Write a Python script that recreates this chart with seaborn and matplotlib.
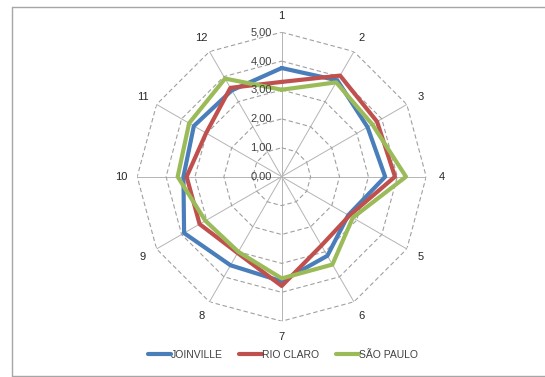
import numpy as np
import pandas as pd
import matplotlib
matplotlib.use("Agg")
import matplotlib.pyplot as plt
import matplotlib.transforms as mtransforms
from matplotlib.lines import Line2D
import seaborn as sns

# Criteria 1..12 and the mean score of each city
categories = ["1", "2", "3", "4", "5", "6", "7", "8", "9", "10", "11", "12"]
joinville = [3.76, 3.85, 3.43, 3.58, 2.66, 3.16, 3.62, 3.54, 3.90, 3.40, 3.51, 3.45]
rio_claro = [3.28, 4.04, 3.81, 3.92, 2.70, 2.75, 3.78, 3.05, 3.28, 3.29, 3.02, 3.55]
sao_paulo = [3.01, 3.77, 3.62, 4.30, 2.84, 3.51, 3.52, 3.00, 3.05, 3.60, 3.70, 3.92]
series_names = ["JOINVILLE", "RIO CLARO", "SÃO PAULO"]
ring_levels = [0, 1, 2, 3, 4, 5]
ring_labels = ["0,00", "1,00", "2,00", "3,00", "4,00", "5,00"]
palette = ["#4a7ebb", "#c0504d", "#9bbb59"]

sns.set_style("white")
plt.rcParams["font.family"] = ["Liberation Sans", "DejaVu Sans"]

n = len(categories)
theta = np.linspace(0, 2 * np.pi, n, endpoint=False)
theta_closed = np.append(theta, 2 * np.pi)

rows = []
for name, vals in zip(series_names, [joinville, rio_claro, sao_paulo]):
    closed = list(vals) + [vals[0]]
    for i, (t, v) in enumerate(zip(theta_closed, closed)):
        rows.append({"city": name, "theta": t, "value": v, "order": i})
df = pd.DataFrame(rows)

W, H = 545, 377
fig = plt.figure(figsize=(W / 100, H / 100), dpi=100)
fig.patch.set_facecolor("white")

# chart frame: left, top and bottom edges (runs off the right side)
frame_kw = dict(transform=fig.transFigure, color="#a6a6a6", linewidth=1.0)
x0, y_top, y_bot = 11.5 / W, 1 - 6.5 / H, 1 - 375.5 / H
fig.add_artist(Line2D([x0, x0], [y_bot, y_top], **frame_kw))
fig.add_artist(Line2D([x0, 1.01], [y_top, y_top], **frame_kw))
fig.add_artist(Line2D([x0, 1.01], [y_bot, y_bot], **frame_kw))

cx, cy, R = 281.7, 176.7, 144.5
ax = fig.add_axes([(cx - R) / W, (H - cy - R) / H, 2 * R / W, 2 * R / H],
                  projection="polar")
ax.set_theta_offset(np.pi / 2)
ax.set_theta_direction(-1)
ax.set_ylim(0, 5)
ax.grid(False)
ax.spines["polar"].set_visible(False)
ax.set_xticks([])
ax.set_yticks([])
ax.patch.set_alpha(0)

# spokes
for t in theta:
    ax.plot([t, t], [0, 5], color="#b4b4b4", linewidth=0.7, zorder=1)
# polygonal rings
for lvl in ring_levels[1:]:
    ax.plot(theta_closed, [lvl] * (n + 1), color="#a0a0a0", linewidth=0.8,
            linestyle=(0, (4, 2.5)), zorder=1)

sns.lineplot(data=df, x="theta", y="value", hue="city", units="city",
             estimator=None, sort=False, palette=palette, linewidth=3.0,
             legend=False, ax=ax, zorder=3)
ax.set_xlabel("")
ax.set_ylabel("")
ax.set_ylim(0, 5)

# radial value labels along the top spoke
offset = mtransforms.ScaledTranslation(-10 / 100, 0, fig.dpi_scale_trans)
for lvl, lab in zip(ring_levels, ring_labels):
    ax.text(0, lvl, lab, transform=ax.transData + offset, ha="right",
            va="center", fontsize=8, color="#404040", zorder=4)

# category labels
for t, lab in zip(theta, categories):
    ax.text(t, 5.55, lab, ha="center", va="center", fontsize=8,
            color="#262626")

handles = [Line2D([], [], color=c, linewidth=3.0) for c in palette]
fig.legend(handles, series_names, loc="center", ncol=3,
           bbox_to_anchor=(283 / W, (H - 355) / H), frameon=False,
           handlelength=2.2, handletextpad=0.0, columnspacing=1.6,
           prop={"size": 7.5}, labelcolor="#404040")

fig.savefig("out.png", dpi=100)
